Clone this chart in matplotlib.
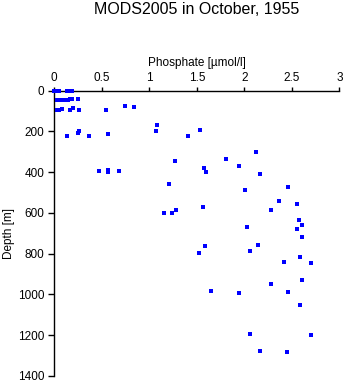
import matplotlib
matplotlib.use("Agg")
import matplotlib.pyplot as plt

title = "MODS2005 in October, 1955"
xlabel = "Phosphate [µmol/l]"
ylabel = "Depth [m]"
xticks = [0, 0.5, 1, 1.5, 2, 2.5, 3]
xticklabels = ["0", "0.5", "1", "1.5", "2", "2.5", "3"]
yticks = [0, 200, 400, 600, 800, 1000, 1200, 1400]

phosphate = [0.00, 0.03, 0.05, 0.13, 0.16, 0.19,
             0.03, 0.06, 0.08, 0.11, 0.14, 0.17, 0.19, 0.25,
             0.03, 0.05, 0.08, 0.17, 0.20, 0.26, 0.545,
             0.74, 0.84, 1.085, 1.075, 1.53, 1.41,
             0.26, 0.245, 0.13, 0.37, 0.565,
             2.12, 1.805, 1.27, 1.94, 1.58, 1.60, 2.17,
             0.47, 0.56, 0.565, 0.68,
             1.205, 2.01, 2.46, 2.36, 2.55, 1.57,
             1.15, 1.235, 1.28, 2.28, 2.58, 2.61, 2.03, 2.555, 2.61,
             1.59, 2.14, 1.52, 2.065, 2.59, 2.42, 2.70,
             2.61, 2.28, 1.65, 1.94, 2.455, 2.59,
             2.06, 2.70, 2.17, 2.45]
depth = [0, 0, 0, 0, 0, 0,
         47, 47, 47, 47, 45, 43, 43, 40,
         94, 94, 92, 94, 85, 94, 94,
         76, 80, 169, 197, 194, 225,
         200, 208, 224, 222, 211,
         301, 334, 347, 370, 380, 402, 409,
         394, 400, 389, 394,
         458, 487, 472, 541, 557, 570,
         600, 600, 585, 588, 637, 658, 668, 681, 719,
         761, 758, 795, 785, 816, 841, 844,
         927, 947, 981, 994, 986, 1054,
         1196, 1201, 1279, 1283]

W, H = 345, 384
fig = plt.figure(figsize=(W / 100, H / 100), dpi=100)
plt.rcParams['font.family'] = ['Liberation Sans', 'DejaVu Sans']
ax = fig.add_axes([54.3 / W, 1 - 376 / H, (339.3 - 54.3) / W, (376 - 90.5) / H])

ax.plot(phosphate, depth, linestyle='none', marker='s', markersize=2.5,
        color='#0000ff', markeredgewidth=0, zorder=5, clip_on=False)

ax.set_xlim(0, 3)
ax.set_ylim(1400, 0)
ax.xaxis.set_ticks_position('top')
ax.xaxis.set_label_position('top')
ax.set_xticks(xticks)
ax.set_xticklabels(xticklabels)
ax.set_yticks(yticks)
for s in ['right', 'bottom']:
    ax.spines[s].set_visible(False)
for s in ['left', 'top']:
    ax.spines[s].set_linewidth(1.0)
    ax.spines[s].set_zorder(1)
ax.tick_params(axis='x', direction='out', length=3, width=1, labelsize=8.5, pad=2)
ax.tick_params(axis='y', direction='out', length=4, width=1, labelsize=8.5, pad=3)
ax.set_xlabel(xlabel, fontsize=8.5, labelpad=4)
ax.set_ylabel(ylabel, fontsize=8.5, labelpad=2)
fig.text(197 / W, 1 - 10 / H, title, ha='center', va='center', fontsize=11.5)

fig.savefig("out.png", dpi=100)
